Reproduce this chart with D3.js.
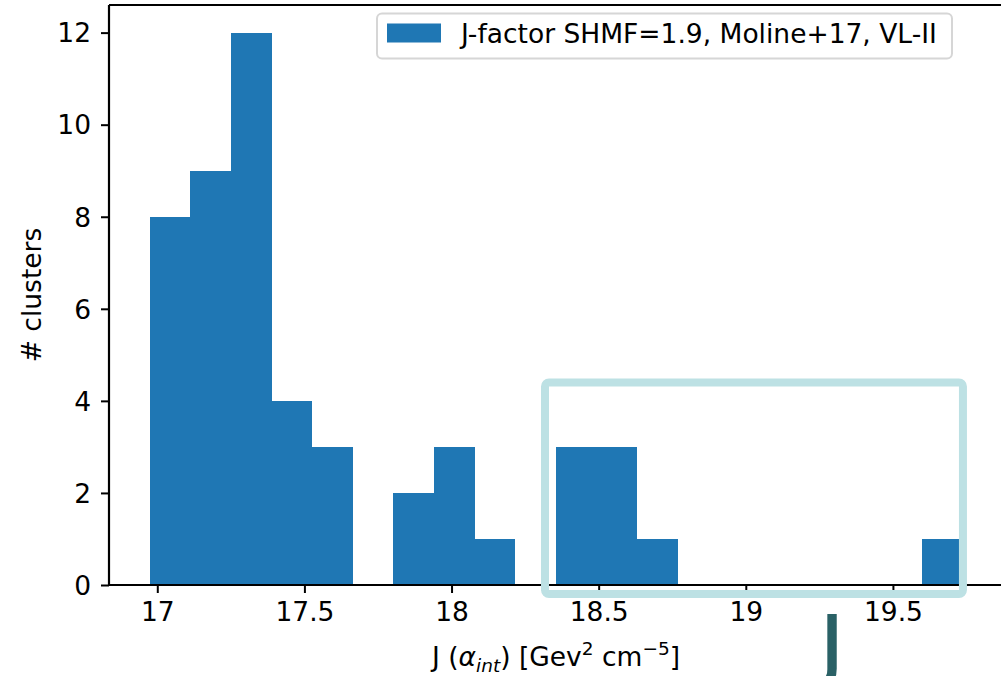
<!DOCTYPE html>
<html>
<head>
<meta charset="utf-8">
<script src="https://cdn.jsdelivr.net/npm/d3@7"></script>
<style>
  html, body { margin: 0; padding: 0; background: #fff; }
  svg { display: block; }
  text { font-family: "DejaVu Sans", sans-serif; }
</style>
</head>
<body>
<svg id="chart" width="1001" height="676"></svg>
<script>
// Histogram of J-factor values: 20 equal-width bins
const binStart = 16.974;
const binEnd = 19.736;
const binCounts = [8, 9, 12, 4, 3, 0, 2, 3, 1, 0, 3, 3, 1, 0, 0, 0, 0, 0, 0, 1];
const xTicks = [17, 17.5, 18, 18.5, 19, 19.5];
const xTickLabels = ["17", "17.5", "18", "18.5", "19", "19.5"];
const yTicks = [0, 2, 4, 6, 8, 10, 12];
const legendLabel = "J-factor SHMF=1.9, Moline+17, VL-II";
// highlighted J range (x in data units, y in counts)
const highlightX = [18.3176, 19.738];
const highlightY = [-0.1957, 4.4];

const svg = d3.select("#chart");
const margin = { left: 109, top: 5, right: 1003, bottom: 585 };
const fontSize = 26.5;

const nBins = binCounts.length;
const binW = (binEnd - binStart) / nBins;
const bins = binCounts.map((c, i) => ({ x0: binStart + i * binW, x1: binStart + (i + 1) * binW, count: c }));

const span = binEnd - binStart;
const x = d3.scaleLinear()
  .domain([binStart - 0.05 * span, binEnd + 0.05 * span])
  .range([margin.left, margin.right]);
const yMax = d3.max(binCounts) * 1.05;
const y = d3.scaleLinear().domain([0, yMax]).range([margin.bottom, margin.top]);

// bars
svg.append("g").attr("shape-rendering", "crispEdges").selectAll("rect")
  .data(bins.filter(d => d.count > 0))
  .join("rect")
  .attr("x", d => x(d.x0))
  .attr("width", d => x(d.x1) - x(d.x0))
  .attr("y", d => y(d.count))
  .attr("height", d => y(0) - y(d.count))
  .attr("fill", "#1f77b4");

// axes
const xAxis = d3.axisBottom(x).tickValues(xTicks)
  .tickFormat((d, i) => xTickLabels[i]).tickSize(8).tickPadding(9);
const gx = svg.append("g").attr("transform", `translate(0,${margin.bottom})`).call(xAxis);
const yAxis = d3.axisLeft(y).tickValues(yTicks).tickFormat(d3.format("d")).tickSize(8).tickPadding(10);
const gy = svg.append("g").attr("transform", `translate(${margin.left},0)`).call(yAxis);

[gx, gy].forEach(g => {
  g.select(".domain").remove();
  g.selectAll(".tick line").attr("stroke", "#000").attr("stroke-width", 2);
  g.selectAll(".tick text")
    .attr("fill", "#000")
    .style("font-size", fontSize + "px")
    .style("font-family", "'DejaVu Sans', sans-serif");
});
gy.selectAll(".tick text").attr("dy", "0.35em");

// spines (left, bottom, top)
const spines = svg.append("g").attr("stroke", "#000").attr("stroke-width", 2.2).attr("fill", "none");
spines.append("line").attr("x1", margin.left).attr("x2", margin.left).attr("y1", margin.top).attr("y2", margin.bottom);
spines.append("line").attr("x1", margin.left).attr("x2", margin.right).attr("y1", margin.bottom).attr("y2", margin.bottom);
spines.append("line").attr("x1", margin.left).attr("x2", margin.right).attr("y1", margin.top).attr("y2", margin.top);
spines.append("line").attr("x1", margin.right).attr("x2", margin.right).attr("y1", margin.top).attr("y2", margin.bottom);

// axis labels
svg.append("text")
  .attr("transform", `translate(41,${(margin.top + margin.bottom) / 2}) rotate(-90)`)
  .attr("text-anchor", "middle")
  .style("font-size", fontSize + "px")
  .text("# clusters");

const xl = svg.append("text")
  .attr("x", (margin.left + margin.right) / 2)
  .attr("y", 666)
  .attr("text-anchor", "middle")
  .style("font-size", fontSize + "px");
xl.append("tspan").text("J (");
xl.append("tspan").style("font-style", "italic").text("α");
xl.append("tspan").attr("dy", 6).style("font-size", "18.5px").style("font-style", "italic").text("int");
xl.append("tspan").attr("dy", -6).text(") [Gev");
xl.append("tspan").attr("dy", -11).style("font-size", "18.5px").text("2");
xl.append("tspan").attr("dy", 11).text(" cm");
xl.append("tspan").attr("dy", -11).style("font-size", "18.5px").text("−5");
xl.append("tspan").attr("dy", 11).text("]");

// legend
const lg = svg.append("g");
lg.append("rect")
  .attr("x", 377).attr("y", 13.5).attr("width", 575).attr("height", 45)
  .attr("rx", 5).attr("fill", "#fff").attr("fill-opacity", 0.8)
  .attr("stroke", "#d6d6d6").attr("stroke-width", 2);
lg.append("rect")
  .attr("x", 387).attr("y", 23.5).attr("width", 54).attr("height", 19)
  .attr("fill", "#1f77b4");
lg.append("text")
  .attr("x", 461).attr("y", 42.5)
  .style("font-size", fontSize + "px")
  .text(legendLabel);

// highlighted range box
svg.append("rect")
  .attr("x", x(highlightX[0]))
  .attr("y", y(highlightY[1]))
  .attr("width", x(highlightX[1]) - x(highlightX[0]))
  .attr("height", y(highlightY[0]) - y(highlightY[1]))
  .attr("rx", 4)
  .attr("fill", "none")
  .attr("stroke", "#bde1e4")
  .attr("stroke-width", 8);

// large "J" marker below the box, running off the bottom edge
svg.append("text")
  .attr("x", 820).attr("y", 671)
  .attr("fill", "#2a6166")
  .style("font-family", "'Open Sans', sans-serif")
  .style("font-size", "80px")
  .style("font-weight", "600")
  .text("J");
</script>
</body>
</html>
